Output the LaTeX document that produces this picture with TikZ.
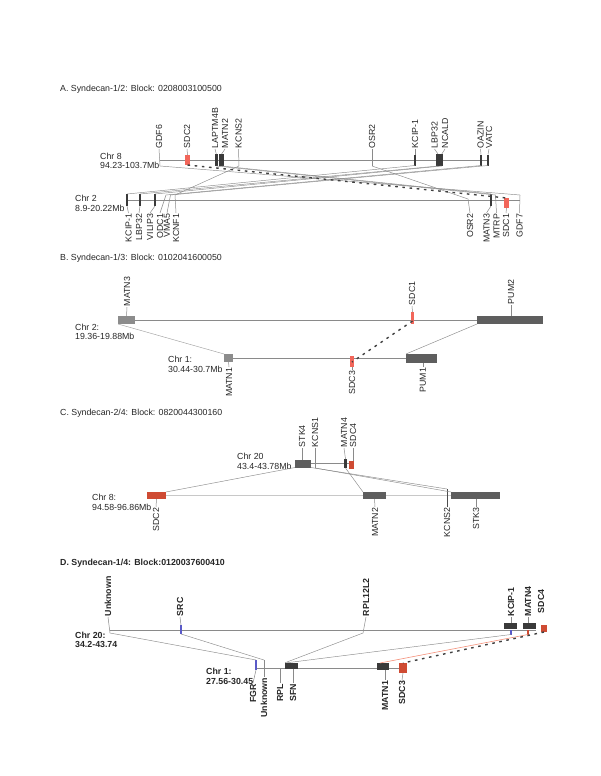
\documentclass[tikz,border=0pt]{standalone}
\usepackage{fontspec}
\setmainfont{Liberation Sans}
\definecolor{sdcred}{HTML}{F2665A}
\definecolor{sdcdark}{HTML}{CF4B33}
\definecolor{boxdark}{HTML}{3A3A3A}
\definecolor{boxmid}{HTML}{5E5E5E}
\definecolor{boxlight}{HTML}{8C8C8C}
\definecolor{linegray}{HTML}{8A8A8A}
\definecolor{linelight}{HTML}{C8C8C8}
\definecolor{tickblue}{HTML}{5A5AC8}
\definecolor{salmon}{HTML}{F4907A}
\tikzset{
  lf/.style={font=\fontsize{8.8}{9.5}\selectfont, inner sep=0.6pt, text=black!85},
  bld/.style={font=\fontsize{8.8}{9.5}\selectfont\bfseries},
  up/.style={lf, rotate=90, anchor=west},
  dn/.style={lf, rotate=90, anchor=east},
  chrlbl/.style={lf, align=left, anchor=base west, inner sep=0pt},
  ttl/.style={lf, anchor=base west, inner sep=0pt},
  chr/.style={draw=linegray, line width=0.5pt},
  lead/.style={draw=linegray, line width=0.5pt},
  conn/.style={draw=linegray, line width=0.45pt},
  dashc/.style={draw=black!75, line width=1.4pt, dash pattern=on 2.6pt off 4.6pt},
  mk/.style={inner sep=0pt, outer sep=0pt, draw=none},
  rbox/.style={mk, fill=sdcred},
  rboxd/.style={mk, fill=sdcdark},
  dbox/.style={mk, fill=boxdark},
  mbox/.style={mk, fill=boxmid},
  lbox/.style={mk, fill=boxlight},
}
\begin{document}
\begin{tikzpicture}[x=1pt,y=-1pt]
\useasboundingbox (0,0) rectangle (600,776);

%================ Panel A =================
\node[ttl] (tA) at (60,92) {A. Syndecan-1/2: Block: 0208003100500};
\node[chrlbl] (a8lab) at (100,168.5) {Chr 8\\94.23-103.7Mb};
\node[chrlbl] (a2lab) at (75,211) {Chr 2\\8.9-20.22Mb};
\coordinate (a8s) at (160,160); \coordinate (a8e) at (488,160);
\coordinate (a2s) at (127,200); \coordinate (a2e) at (520,200);
\draw[chr] (a8s) -- (a8e);
\draw[chr] (a2s) -- (a2e);
% chr 8 markers
\coordinate (mGDF6) at (160,166);
\node[rbox, minimum width=5pt, minimum height=10pt] (aSDC2) at (187.5,160) {};
\node[dbox, minimum width=3.4pt, minimum height=12pt] (aLAP) at (216.3,160) {};
\node[dbox, minimum width=4.8pt, minimum height=12pt] (aMATN2) at (221.6,160) {};
\coordinate (mKCNS2) at (239,166);
\coordinate (mOSR2) at (372,166);
\node[dbox, minimum width=1.6pt, minimum height=11pt] (aKCIP) at (415,160) {};
\node[dbox, minimum width=5pt, minimum height=12pt] (aLBP) at (438,160) {};
\node[dbox, minimum width=1.6pt, minimum height=12pt] (aNCALD) at (441.8,160) {};
\node[dbox, minimum width=1.6pt, minimum height=11pt] (aOAZ) at (481,160) {};
\node[dbox, minimum width=1.6pt, minimum height=11pt] (aVATC) at (488,160) {};
% chr 8 labels
\node[up] (lGDF6) at (159,149) {GDF6};
\node[up] (lSDC2) at (187,149) {SDC2};
\node[up] (lLAP) at (215,149) {LAPTM4B};
\node[up] (lMATN2) at (225,149) {MATN2};
\node[up] (lKCNS2) at (238.5,149) {KCNS2};
\node[up] (lOSR2) at (372,149) {OSR2};
\node[up] (lKCIP) at (415,149) {KCIP-1};
\node[up] (lLBP) at (434.5,149) {LBP32};
\node[up] (lNCALD) at (445,149) {NCALD};
\node[up] (lOAZ) at (480.5,149) {OAZIN};
\node[up] (lVATC) at (489,149) {VATC};
\draw[lead] (lGDF6.west) -- (mGDF6);
\draw[lead] (lSDC2.west) -- (aSDC2.north);
\draw[lead] (lLAP.west) -- (aLAP.north);
\draw[lead] (lMATN2.west) -- (aMATN2.north);
\draw[lead] (lKCNS2.west) -- (mKCNS2);
\draw[lead] (lOSR2.west) -- (mOSR2);
\draw[lead] (lKCIP.west) -- (aKCIP.north);
\draw[lead] (lLBP.west) -- (aLBP.north);
\draw[lead] (lNCALD.west) -- (aNCALD.north);
\draw[lead] (lOAZ.west) -- (aOAZ.north);
\draw[lead] (lVATC.west) -- (aVATC.north);
% chr 2 markers
\node[dbox, minimum width=1.6pt, minimum height=12pt] (bKCIP) at (127,200) {};
\node[dbox, minimum width=1.6pt, minimum height=12pt] (bLBP) at (140,200) {};
\node[dbox, minimum width=1.6pt, minimum height=12pt] (bVIL) at (155,200) {};
\coordinate (mODC1) at (166,195);
\coordinate (mVMA5) at (170.5,195);
\coordinate (mKCNF1) at (175,195);
\coordinate (mOSR2b) at (468,199);
\node[dbox, minimum width=1.8pt, minimum height=12pt] (bMATN3) at (491,200) {};
\coordinate (mMTRP) at (495.5,195);
\node[rbox, minimum width=5pt, minimum height=10pt] (bSDC1) at (506.5,203) {};
\coordinate (mGDF7) at (520,195);
% chr 2 labels
\node[dn] (lbKCIP) at (128.5,213) {KCIP-1};
\node[dn] (lbLBP) at (139,213) {LBP32};
\node[dn] (lbVIL) at (150,213) {VILIP3};
\node[dn] (lbODC) at (160,213) {ODC1};
\node[dn] (lbVMA) at (167,213) {VMA5};
\node[dn] (lbKCNF) at (176,213) {KCNF1};
\node[dn] (lbOSR2) at (470,213) {OSR2};
\node[dn] (lbMATN3) at (486.5,213) {MATN3};
\node[dn] (lbMTRP) at (496.5,213) {MTRP};
\node[dn] (lbSDC1) at (506,213) {SDC1};
\node[dn] (lbGDF7) at (519.5,213) {GDF7};
\draw[lead] (lbKCIP.east) -- (bKCIP.south);
\draw[lead] (lbLBP.east) -- (bLBP.south);
\draw[lead] (lbVIL.east) -- (bVIL.south);
\draw[lead] (lbODC.east) -- (mODC1);
\draw[lead] (lbVMA.east) -- (mVMA5);
\draw[lead] (lbKCNF.east) -- (mKCNF1);
\draw[lead] (lbOSR2.east) -- (mOSR2b);
\draw[lead] (lbMATN3.east) -- (bMATN3.south);
\draw[lead] (lbMTRP.east) -- (mMTRP);
\draw[lead] (lbSDC1.east) -- (bSDC1.south);
\draw[lead] (lbGDF7.east) -- (mGDF7);
% connectors A
\draw[conn] (mGDF6) -- (mGDF7);
\draw[conn] (aLAP.south) -- (mMTRP);
\draw[conn] (aMATN2.south) -- (bMATN3.north);
\draw[conn] (mKCNS2) -- (mKCNF1);
\draw[conn] (mOSR2) -- (mOSR2b);
\draw[conn] (aKCIP.south) -- (bKCIP.north);
\draw[conn] (aLBP.south) -- (bLBP.north);
\draw[conn] (aNCALD.south) -- (bVIL.north);
\draw[conn] (aOAZ.south) -- (mODC1);
\draw[conn] (aVATC.south) -- (mVMA5);
\draw[dashc] (aSDC2.south) -- (bSDC1.north);

%================ Panel B =================
\node[ttl] (tB) at (60,260) {B. Syndecan-1/3: Block: 0102041600050};
\node[chrlbl] (b2lab) at (75,339.5) {Chr 2:\\19.36-19.88Mb};
\node[chrlbl] (b1lab) at (168,372) {Chr 1:\\30.44-30.7Mb};
\coordinate (b2s) at (135,320); \coordinate (b2e) at (477,320);
\coordinate (b1s) at (233,358); \coordinate (b1e) at (406,358);
\draw[chr] (b2s) -- (b2e);
\draw[chr] (b1s) -- (b1e);
\node[lbox, minimum width=17pt, minimum height=8pt] (cMATN3) at (126.5,320) {};
\node[rbox, minimum width=3.5pt, minimum height=12pt] (cSDC1) at (412.5,318) {};
\node[mbox, minimum width=66pt, minimum height=8pt] (cPUM2) at (510,320) {};
\node[lbox, minimum width=9pt, minimum height=8pt] (cMATN1) at (228.5,358) {};
\node[rbox, minimum width=4pt, minimum height=11pt] (cSDC3) at (352,361.5) {};
\node[mbox, minimum width=31pt, minimum height=9pt] (cPUM1) at (421.5,358.5) {};
\node[up] (lcMATN3) at (127,307) {MATN3};
\node[up] (lcSDC1) at (412,306) {SDC1};
\node[up] (lcPUM2) at (511,305) {PUM2};
\node[dn] (lcMATN1) at (229,367) {MATN1};
\node[dn] (lcSDC3) at (352,370) {SDC3};
\node[dn] (lcPUM1) at (423,367) {PUM1};
\draw[lead] (lcMATN3.west) -- (cMATN3.north);
\draw[lead] (lcSDC1.west) -- (cSDC1.north);
\draw[lead] (lcPUM2.west) -- (cPUM2.north -| lcPUM2.west);
\draw[lead] (lcMATN1.east) -- (cMATN1.south);
\draw[lead] (lcSDC3.east) -- (cSDC3.south);
\draw[lead] (lcPUM1.east) -- (cPUM1.south -| lcPUM1.east);
\draw[conn, draw=linegray!80] (cMATN3.south west) -- (cMATN1.north west);
\draw[conn] (cPUM2.south west) -- (cPUM1.north west);
\draw[dashc] ([yshift=3pt]cSDC1.south) -- ([yshift=-6pt]cSDC3.north);

%================ Panel C =================
\node[ttl] (tC) at (60,415.5) {C. Syndecan-2/4: Block: 0820044300160};
\node[chrlbl] (c20lab) at (237,469) {Chr 20\\43.4-43.78Mb};
\node[chrlbl] (c8lab) at (92,510) {Chr 8:\\94.58-96.86Mb};
\coordinate (c20s) at (311,463.5); \coordinate (c20e) at (349,463.5);
\coordinate (c8s) at (166,495); \coordinate (c8e) at (451,495);
\draw[chr] (c20s) -- (c20e);
\draw[chr, draw=linelight] (c8s) -- (c8e);
\node[mbox, minimum width=16pt, minimum height=8pt] (dSTK4) at (303,463.5) {};
\coordinate (mKCNS1) at (315,468);
\node[dbox, minimum width=2.5pt, minimum height=9pt] (dMATN4) at (345.5,463.5) {};
\node[rboxd, minimum width=5pt, minimum height=8pt] (dSDC4) at (351.5,465) {};
\node[rboxd, minimum width=19pt, minimum height=7pt] (dSDC2) at (156.5,495.5) {};
\node[mbox, minimum width=23pt, minimum height=7pt] (dMATN2) at (374.5,495.5) {};
\coordinate (mKCNS2c) at (447,489);
\node[mbox, minimum width=49pt, minimum height=7pt] (dSTK3) at (475.5,495.5) {};
\node[up] (ldSTK4) at (302,448) {STK4};
\node[up] (ldKCNS1) at (315,448) {KCNS1};
\node[up] (ldMATN4) at (344,448) {MATN4};
\node[up] (ldSDC4) at (353,448) {SDC4};
\node[dn] (ldSDC2) at (156,507) {SDC2};
\node[dn] (ldMATN2) at (375,507) {MATN2};
\node[dn] (ldKCNS2) at (447,507) {KCNS2};
\node[dn] (ldSTK3) at (476,507) {STK3};
\draw[lead] (ldSTK4.west) -- (dSTK4.north -| ldSTK4.west);
\draw[lead] (ldKCNS1.west) -- (mKCNS1);
\draw[lead] (ldMATN4.west) -- (dMATN4.north);
\draw[lead] (ldSDC4.west) -- (dSDC4.north -| ldSDC4.west);
\draw[lead] (ldSDC2.east) -- (dSDC2.south);
\draw[lead] (ldMATN2.east) -- (dMATN2.south);
\draw[lead, draw=black!70] (ldKCNS2.east) -- (mKCNS2c);
\draw[lead] (ldSTK3.east) -- (dSTK3.south -| ldSTK3.east);
\draw[conn] (dSTK4.south west) -- (dSDC2.north east);
\draw[conn] (dSTK4.south east) -- (mKCNS2c);
\draw[conn] (mKCNS1) -- (dSTK3.north west);
\draw[conn] (dMATN4.south) -- (dMATN2.north west);

%================ Panel D =================
\node[ttl,bld] (tD) at (60,565) {D. Syndecan-1/4: Block:0120037600410};
\node[chrlbl,bld] (e20lab) at (75,647.5) {Chr 20:\\34.2-43.74};
\node[chrlbl,bld] (e1lab) at (206,684) {Chr 1:\\27.56-30.45};
\coordinate (e20s) at (110,630); \coordinate (e20e) at (536,630);
\coordinate (e1s) at (256,668); \coordinate (e1e) at (399,668);
\draw[chr] (e20s) -- (e20e);
\draw[chr] (e1s) -- (e1e);
\coordinate (mUnk) at (110,633);
\node[mk, fill=tickblue, minimum width=1.2pt, minimum height=9pt] (eSRC) at (181,629.5) {};
\coordinate (mRPL12) at (363,633);
\node[dbox, minimum width=13pt, minimum height=6.5pt] (eKCIP) at (510.5,626) {};
\node[mk, fill=tickblue, minimum width=1.2pt, minimum height=5pt] (eKCIPt) at (511,632) {};
\node[dbox, minimum width=13pt, minimum height=6.5pt] (eMATN4) at (529.5,626) {};
\node[mk, fill=sdcdark, minimum width=1.2pt, minimum height=5pt] (eMATN4t) at (528,632) {};
\node[rboxd, minimum width=6pt, minimum height=7pt] (eSDC4) at (544,628.5) {};
\node[mk, fill=tickblue, minimum width=1.2pt, minimum height=10pt] (eFGR) at (256,665) {};
\coordinate (mUnk1) at (264,660);
\node[dbox, minimum width=13pt, minimum height=6.5pt] (eRPL) at (291.5,666) {};
\node[dbox, minimum width=12pt, minimum height=7pt] (eMATN1) at (383,666.5) {};
\node[rboxd, minimum width=8pt, minimum height=10pt] (eSDC3) at (403,668) {};
\node[up,bld] (leUnk) at (108,617) {Unknown};
\node[up,bld] (leSRC) at (180,617) {SRC};
\node[up,bld] (leRPL12) at (366,617) {RPL12L2};
\node[up,bld] (leKCIP) at (511,617) {KCIP-1};
\node[up,bld] (leMATN4) at (528,617) {MATN4};
\node[up,bld] (leSDC4) at (541,614) {SDC4};
\node[dn,bld] (leFGR) at (253,683) {FGR};
\node[dn,bld] (leUnk1) at (264,677) {Unknown};
\node[dn,bld] (leRPL) at (280,683) {RPL};
\node[dn,bld] (leSFN) at (293,683) {SFN};
\node[dn,bld] (leMATN1) at (385,680) {MATN1};
\node[dn,bld] (leSDC3) at (402,680) {SDC3};
\draw[lead] (leUnk.west) -- (mUnk);
\draw[lead] (leSRC.west) -- (eSRC.north);
\draw[lead] (leRPL12.west) -- (mRPL12);
\draw[lead] (leKCIP.west) -- (eKCIP.north -| leKCIP.west);
\draw[lead] (leMATN4.west) -- (eMATN4.north -| leMATN4.west);
\draw[lead] (leFGR.east) -- (eFGR.south);
\draw[lead] (mUnk1) -- (leUnk1.east);
\draw[lead] (leRPL.east) -- (eRPL.south -| leRPL.east);
\draw[lead] (leSFN.east) -- (eRPL.south -| leSFN.east);
\draw[lead] (leMATN1.east) -- (eMATN1.south -| leMATN1.east);
\draw[lead] (leSDC3.east) -- (eSDC3.south);
\draw[conn] (mUnk) -- (eFGR.north);
\draw[conn] (eSRC.south) -- (mUnk1);
\draw[conn] (mRPL12) -- (eRPL.north west);
\draw[conn] (eKCIPt.south) -- ([xshift=2pt]eRPL.north west);
\draw[conn, draw=salmon, line width=0.6pt] (eMATN4t.south) -- ([xshift=-3pt]eMATN1.north);
\draw[dashc] (eSDC4.south) -- (eSDC3.north);
\end{tikzpicture}
\end{document}
